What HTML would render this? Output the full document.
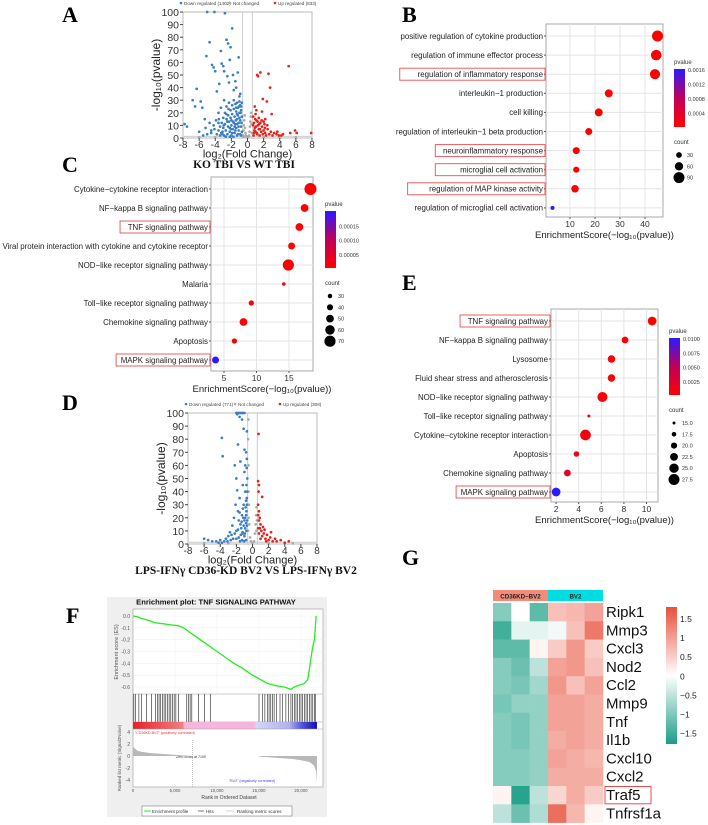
<!DOCTYPE html>
<html><head><meta charset="utf-8"><style>
html,body{margin:0;padding:0;background:#fff}
svg{display:block;font-family:"Liberation Sans",sans-serif}
.lbl{font-family:"Liberation Serif",serif;font-weight:bold;font-size:22px}
</style></head><body>
<svg id="fig" width="708" height="825" viewBox="0 0 708 825" xmlns="http://www.w3.org/2000/svg">
<defs>
<linearGradient id="pg" x1="0" y1="1" x2="0" y2="0"><stop offset="0" stop-color="#ff0000"/><stop offset="0.5" stop-color="#c0005a"/><stop offset="1" stop-color="#2a1aff"/></linearGradient>
<linearGradient id="hg" x1="0" y1="1" x2="0" y2="0"><stop offset="0" stop-color="#1a9e84"/><stop offset="0.5" stop-color="#ffffff"/><stop offset="1" stop-color="#e8503a"/></linearGradient>
<linearGradient id="fg" x1="0" y1="0" x2="1" y2="0"><stop offset="0" stop-color="#e8202a"/><stop offset="0.27" stop-color="#f08080"/><stop offset="0.28" stop-color="#f6b6dc"/><stop offset="0.66" stop-color="#f6b6dc"/><stop offset="0.67" stop-color="#d6d6f6"/><stop offset="0.85" stop-color="#b0b0f0"/><stop offset="0.92" stop-color="#5050e0"/><stop offset="1" stop-color="#1010b0"/></linearGradient>
</defs>
<text class="lbl" x="62" y="22">A</text>
<text class="lbl" x="402" y="22">B</text>
<text class="lbl" x="62" y="172">C</text>
<text class="lbl" x="62" y="410">D</text>
<text class="lbl" x="402" y="290">E</text>
<text class="lbl" x="66" y="623">F</text>
<text class="lbl" x="402" y="565">G</text>
<g id="root"></g>
</svg>
<script>
// ---------- DATA ----------
const volcA_down = "-7.8,11 -7.5,9 -6.8,30 -6.5,25 -6.3,39 -5.8,29 -5.6,24 -5.3,15 -5.1,65 -5,100 -4.7,76 -4.5,6 -4.4,58 -4.2,56 -4.1,100 -4,53 -3.8,37 -3.6,12 -3.5,43 -3.3,69 -3.2,59 -3,57 -2.9,53 -2.8,99 -2.6,78 -2.5,49 -2.4,75 -2.3,44 -2.2,62 -2.1,72 -1.9,87 -1.8,50 -1.7,38 -1.5,45 -1.4,40 -1.3,28 -1.2,52 -1.1,64 -1,33 -0.9,35 -0.8,25 -3.8,3 -3.6,6 -3.4,9 -3.4,2 -3.2,12 -3.1,5 -3,16 -3,8 -2.9,2 -2.8,20 -2.8,11 -2.7,6 -2.6,25 -2.6,15 -2.5,3 -2.4,18 -2.4,9 -2.3,28 -2.3,13 -2.2,5 -2.1,22 -2.1,16 -2,10 -2,2 -1.9,26 -1.9,19 -1.8,13 -1.8,7 -1.7,30 -1.7,23 -1.6,17 -1.6,4 -1.5,11 -1.5,27 -1.4,21 -1.4,8 -1.3,15 -1.3,2 -1.2,24 -1.2,18 -1.1,12 -1.1,6 -1,29 -1,20 -0.9,14 -0.9,3 -0.8,22 -0.8,9 -0.7,17 -0.7,5 -4.5,4 -5,3 -5.5,2 -6,5 -4.2,10 -3.9,14 -3.6,20 -3.3,24 -2.9,30 -2.5,13 -2.2,1 -1.9,4 -1.6,9 -1.3,11 -1,16 -0.8,2 -0.75,12 -1.05,25 -1.45,14 -1.75,1 -2.05,7 -2.35,23 -2.65,19 -2.95,10 -3.25,4 -3.55,15 -4.1,7 -4.7,12 -5.2,8 -1.2,3 -1.5,6 -0.9,26 -1.1,9 -1.3,19 -1.7,12 -2,14 -2.2,8 -2.7,1 -3.1,3 -1.4,24 -0.7,28 -0.85,20";
const volcA_up = "0.7,17 0.8,12 0.9,8 1,5 1.1,14 1.2,3 1.3,10 1.4,7 1.5,2 1.6,12 1.7,5 1.8,9 1.9,3 2,6 2.1,11 2.2,4 2.3,2 2.5,7 2.7,3 2.9,5 3.1,2 3.3,4 3.6,3 3.9,2 4.2,2 0.75,2 0.85,6 0.95,15 1.05,9 1.15,4 1.25,13 1.45,11 1.55,7 1.75,14 2.15,8 2.45,10 0.9,25 1.2,50 1.3,49 1.6,52 2.6,51 2.8,40 1.9,31 2.4,29 3,19 1.8,21 5.1,57 5.3,4 5.9,6 6.1,4 7.9,4 4.4,3 3.7,5 0.7,10 0.8,4 1,19 1.4,16 2,13 1.1,22 2.2,15";
const volcA_ns = "-0.55,2 -0.5,6 -0.45,10 -0.4,14 -0.35,18 -0.3,8 -0.25,4 -0.2,2 -0.1,1 0,1 0.1,1 0.2,2 0.25,5 0.3,9 0.35,13 0.4,17 0.45,20 0.5,11 0.55,4 -0.5,1 -6,0.5 -4,0.5 -2,0.5 2,0.5 4,0.5 6,0.5";
const volcD_down = "-6,4 -5.5,3 -5,2 -4.5,2 -4,3 -3.8,1 -3.5,2 -3.3,4 -3,6 -2.8,9 -3.8,81 -3.7,67 -2.5,14 -2.3,20 -2.2,60 -2.1,30 -2,50 -2,10 -1.9,41 -1.8,76 -1.8,25 -1.7,5 -1.6,35 -1.5,15 -1.5,63 -1.4,100 -1.3,95 -1.3,22 -1.2,45 -1.2,8 -1.1,30 -1.1,88 -1,18 -1,55 -0.9,40 -0.9,12 -0.8,70 -0.8,3 -0.75,25 -0.7,86 -0.7,35 -0.65,50 -1.6,97 -1.9,99 -1.4,12 -1.7,18 -2.4,4 -2.6,7 -1.2,27 -0.9,20 -0.8,16 -0.75,10 -1,6 -1.3,3 -1.1,14 -0.85,28 -0.7,30 -0.65,18 -0.7,14 -0.75,45 -0.8,33 -0.9,60 -1,72 -1.15,20 -1.25,9 -1.45,7 -1.6,24 -1.8,11 -2,4 -2.2,8 -0.7,65 -0.72,58 -0.68,40 -0.78,22 -0.95,8 -1.05,2 -1.35,17 -1.55,2 -2.7,3 -3.1,2 -4.2,1 -2,100 -1.8,100 -1.6,100 -1.2,100 -1,100";
const volcD_up = "0.7,48 0.8,45 0.75,40 1.2,36 0.7,30 0.8,25 0.9,20 1,15 0.7,22 0.8,18 1.1,10 1.2,6 1.4,8 1.6,4 1.8,7 2,3 2.2,5 2.5,2 2.8,4 3,2 3.5,3 4,1 4.5,2 0.9,12 1.3,13 0.75,84 1.5,11 1.7,2 2.3,9 0.8,8 1,4 0.7,12";
const volcD_ns = "-0.55,10 -0.5,20 -0.5,40 -0.5,60 -0.55,80 -0.5,95 -0.45,30 -0.4,15 -0.3,5 -0.2,2 0,1 0.2,2 0.3,8 0.4,15 0.45,22 0.5,28 0.55,18 0.5,10 -6,0.5 -3,0.5 2,0.5 5,0.5";

const bTerms = ["positive regulation of cytokine production","regulation of immune effector process","regulation of inflammatory response","interleukin−1 production","cell killing","regulation of interleukin−1 beta production","neuroinflammatory response","microglial cell activation","regulation of MAP kinase activity","regulation of microglial cell activation"];
const bScore = [45,44.5,44,25.5,21.5,17.5,12.5,12.5,12,3];
const bCount = [90,85,80,55,55,45,45,35,50,10];
const bP = [0.00001,0.00001,0.00001,0.00001,0.00001,0.00001,0.00001,0.00001,0.00001,0.0016];
const bBoxed = [2,6,7,8];

const cTerms = ["Cytokine−cytokine receptor interaction","NF−kappa B signaling pathway","TNF signaling pathway","Viral protein interaction with cytokine and cytokine receptor","NOD−like receptor signaling pathway","Malaria","Toll−like receptor signaling pathway","Chemokine signaling pathway","Apoptosis","MAPK signaling pathway"];
const cScore = [18.3,17.4,16.6,15.4,14.9,14.2,9.2,8.0,6.6,3.7];
const cCount = [75,50,50,45,70,25,35,50,35,45];
const cP = [0.000001,0.000001,0.000001,0.000001,0.000001,0.000001,0.000001,0.000001,0.000001,0.00018];
const cBoxed = [2,9];

const eTerms = ["TNF signaling pathway","NF−kappa B signaling pathway","Lysosome","Fluid shear stress and atherosclerosis","NOD−like receptor signaling pathway","Toll−like receptor signaling pathway","Cytokine−cytokine receptor interaction","Apoptosis","Chemokine signaling pathway","MAPK signaling pathway"];
const eScore = [10.5,8.1,6.9,6.9,6.1,4.9,4.6,3.8,3.0,2.0];
const eCount = [24,21,22,22,26,15,27,19,21,24];
const eP = [0.00001,0.0001,0.0002,0.0002,0.0003,0.0005,0.0005,0.001,0.0015,0.0100];
const eBoxed = [0,9];

const esRank = [0,500,1000,1500,2000,2500,3000,3500,4000,4500,5000,5500,6000,7000,8000,9000,10000,11000,12000,13000,14000,15000,16000,17000,18000,18800,19200,19600,20000,20400,20800,21000,21200,21400,21600,21800];
const esVal = [0,-0.005,-0.02,-0.03,-0.04,-0.055,-0.06,-0.065,-0.07,-0.075,-0.078,-0.085,-0.1,-0.15,-0.2,-0.25,-0.3,-0.35,-0.4,-0.44,-0.49,-0.53,-0.57,-0.59,-0.6,-0.62,-0.6,-0.59,-0.58,-0.57,-0.54,-0.45,-0.35,-0.26,-0.2,0];
const hitRanks = [100,300,700,1000,1600,2200,2700,2900,3100,3300,3500,3700,3900,4100,4300,4500,4700,4900,5100,5400,6400,6600,6800,7000,7800,8500,9200,15000,15400,15700,16000,16200,16400,16600,16800,17100,17500,17800,18200,18500,18800,19000,19200,19400,19600,19800,20000,20200,20400,20600,20800,21000,21200,21400,21600,21700];
const metricRank = [0,500,1000,2000,4000,6000,7100,9000,12000,14900,15000,17000,19000,20000,21000,21500,21800,21900];
const metricVal = [1.5,0.9,0.7,0.5,0.3,0.1,0,0,0,0,-0.1,-0.3,-0.5,-0.7,-1.0,-1.5,-2.5,-4.5];

const genes = ["Ripk1","Mmp3","Cxcl3","Nod2","Ccl2","Mmp9","Tnf","Il1b","Cxcl10","Cxcl2","Traf5","Tnfrsf1a"];
const heat = [
[-0.9,0,-1.2,0.6,0.7,0.9],
[-1.4,-0.2,-0.2,-0.1,0.6,1.3],
[-1.2,-1.2,0.1,0.5,1.0,0.5],
[-0.9,-1.1,-0.5,0.9,1.0,0.6],
[-0.9,-1.0,-0.7,1.0,0.6,0.9],
[-1.0,-0.8,-0.8,0.9,0.9,0.8],
[-0.9,-1.0,-0.8,0.9,0.9,0.8],
[-0.9,-1.0,-0.8,0.8,0.9,0.8],
[-0.9,-0.9,-0.8,0.9,0.8,0.7],
[-0.9,-0.9,-0.8,0.8,0.8,0.8],
[0.1,-1.6,-0.5,0.4,0.8,0.5],
[-0.5,-1.1,-0.6,1.4,0.7,0.1]];

// ---------- HELPERS ----------
const NS="http://www.w3.org/2000/svg";
const root=document.getElementById('root');
function el(tag,attrs,parent,text){const e=document.createElementNS(NS,tag);for(const k in attrs)e.setAttribute(k,attrs[k]);if(text!==undefined)e.textContent=text;(parent||root).appendChild(e);return e;}
function parsePts(s){return s.trim().split(/\s+/).map(p=>p.split(',').map(Number));}

// ---------- VOLCANO ----------
function volcano(o){
  const g=el('g',{});
  
  
  const X=v=>o.x0+(v+8)*(o.x1-o.x0)/16, Y=v=>o.y1-v*(o.y1-o.y0)/100;
  const frame=el('rect',{x:o.x0,y:o.y0,width:o.x1-o.x0,height:o.y1-o.y0,fill:'#fff',stroke:'#bbb','stroke-width':1},g);
  
  el('line',{x1:X(-0.6),x2:X(-0.6),y1:o.y0,y2:o.y1,stroke:'#ccc','stroke-width':1},g);
  el('line',{x1:X(0.6),x2:X(0.6),y1:o.y0,y2:o.y1,stroke:'#ccc','stroke-width':1},g);
  el('line',{x1:o.x0,x2:o.x1,y1:Y(1.3),y2:Y(1.3),stroke:'#ccc','stroke-width':1},g);
  const series=[[o.ns,'#aaaaaa','point-not-changed'],[o.down,'#3a7fc4','point-down'],[o.up,'#e8201a','point-up']];
  series.forEach(([s,c,n])=>parsePts(s).forEach(([x,y])=>{const p=el('circle',{cx:X(x),cy:Y(y),r:1.35,fill:c},g);}));
  for(let v=0;v<=100;v+=10){el('line',{x1:o.x0-3,x2:o.x0,y1:Y(v),y2:Y(v),stroke:'#444'},g);const t=el('text',{x:o.x0-4,y:Y(v)+4,'font-size':10.5,'text-anchor':'end',fill:'#333'},g,v);}
  for(let v=-8;v<=8;v+=2){el('line',{x1:X(v),x2:X(v),y1:o.y1,y2:o.y1+3,stroke:'#444'},g);const t=el('text',{x:X(v),y:o.y1+10,'font-size':10,'text-anchor':'middle',fill:'#333'},g,v);}
  const yl=el('text',{x:0,y:0,'font-size':12,'text-anchor':'middle',fill:'#222',transform:`translate(${o.x0-23},${(o.y0+o.y1)/2}) rotate(-90)`},g,'-log₁₀(pvalue)');
  const xl=el('text',{x:(o.x0+o.x1)/2,y:o.y1+19.5,'font-size':11,'text-anchor':'middle',fill:'#222'},g,'log₂(Fold Change)');
  const tt=el('text',{x:o.tx,y:o.y1+30,'font-size':o.tsize,'text-anchor':'middle','font-family':'Liberation Serif,serif','font-weight':'bold',fill:'#111'},g,o.title);
  const lg=el('g',{},g);
  const ly=o.y0-7;
  el('circle',{cx:o.x0-2,cy:ly-2,r:1.3,fill:'#3a7fc4'},lg);el('text',{x:o.x0+1,y:ly,'font-size':4.6,fill:'#444'},lg,o.l1);
  el('circle',{cx:o.x0+47,cy:ly-2,r:1.3,fill:'#aaa'},lg);el('text',{x:o.x0+50,y:ly,'font-size':4.6,fill:'#444'},lg,'Not changed');
  el('circle',{cx:o.x0+92,cy:ly-2,r:1.3,fill:'#e8201a'},lg);el('text',{x:o.x0+95,y:ly,'font-size':4.6,fill:'#444'},lg,o.l2);
}
volcano({name:'volcano-ko-vs-wt',x0:183,x1:312,y0:12,y1:138,down:volcA_down,up:volcA_up,ns:volcA_ns,title:'KO TBI  VS  WT TBI',tx:244,tsize:11.5,l1:'Down regulated (1402)',l2:'Up regulated (833)'});
volcano({name:'volcano-cd36kd-vs-bv2',x0:188,x1:317,y0:413,y1:544,down:volcD_down,up:volcD_up,ns:volcD_ns,title:'LPS-IFNγ CD36-KD BV2 VS LPS-IFNγ BV2',tx:246,tsize:11.5,l1:'Down regulated (771)',l2:'Up regulated (308)'});

// ---------- DOT PLOTS ----------
function dotplot(o){
  const g=el('g',{});
  
  
  const X=v=>o.px0+(v-o.xmin)*o.k;
  const rowY=i=>o.ry0+i*o.rstep;
  el('rect',{x:o.x0,y:o.y0,width:o.x1-o.x0,height:o.y1-o.y0,fill:'#fff',stroke:'#aaa','stroke-width':1},g);
  o.ticks.forEach(v=>{el('line',{x1:X(v),x2:X(v),y1:o.y0,y2:o.y1,stroke:'#e4e4e4'},g);
    const t=el('text',{x:X(v),y:o.y1+10,'font-size':8.5,'text-anchor':'middle',fill:'#333'},g,v);
    el('line',{x1:X(v),x2:X(v),y1:o.y1,y2:o.y1+2,stroke:'#555'},g);});
  o.terms.forEach((term,i)=>{const y=rowY(i);
    el('line',{x1:o.x0,x2:o.x1,y1:y,y2:y,stroke:'#e4e4e4'},g);
    el('line',{x1:o.x0-2,x2:o.x0,y1:y,y2:y,stroke:'#555'},g);
    const t=el('text',{x:o.x0-3,y:y+2.8,'font-size':o.fs,'text-anchor':'end',fill:'#222'},g,term);
    
    if(o.boxed.includes(i)){const w=term.length*o.fs*0.5+6;const b=el('rect',{x:o.x0-w-2,y:y-6,width:w+1,height:12,fill:'none',stroke:'#e85050','stroke-width':0.9},g);}
    const frac=Math.min(1,o.p[i]/o.pmax);
    const c=`rgb(${Math.round(255-213*frac)},${Math.round(26*frac)},${Math.round(255*frac)})`;
    const r=o.rmin+(o.count[i]-o.cmin)/(o.cmax-o.cmin)*(o.rmax-o.rmin);
    const d=el('circle',{cx:X(o.score[i]),cy:y,r:r,fill:c},g);
    
  });
  const xl=el('text',{x:(o.x0+o.x1)/2,y:o.y1+21,'font-size':9.5,'text-anchor':'middle',fill:'#222'},g,'EnrichmentScore(−log₁₀(pvalue))');
  
  const lg=el('g',{},g);
  el('text',{x:o.lx,y:o.ly,'font-size':6,fill:'#333'},lg,'pvalue');
  el('rect',{x:o.lx,y:o.ly+5,width:11,height:o.lbh,fill:'url(#pg)'},lg);
  o.ptick.forEach((t,j)=>el('text',{x:o.lx+14,y:o.ly+8+j*o.lbh/4,'font-size':5.5,fill:'#333'},lg,t));
  el('text',{x:o.lx,y:o.ly+o.lbh+22,'font-size':6,fill:'#333'},lg,'count');
  o.clab.forEach((t,j)=>{const cy=o.ly+o.lbh+33+j*11.3;const r=o.rmin+(o.cvals[j]-o.cmin)/(o.cmax-o.cmin)*(o.rmax-o.rmin);el('circle',{cx:o.lx+5,cy:cy,r:r,fill:'#000'},lg);el('text',{x:o.lx+13,y:cy+2,'font-size':5.5,fill:'#333'},lg,t);});
}
dotplot({name:'go-enrichment-dotplot',terms:bTerms,score:bScore,count:bCount,p:bP,pmax:0.0016,boxed:bBoxed,x0:546,x1:663,y0:24,y1:217,ry0:36,rstep:19.1,px0:545,xmin:0,k:2.5,ticks:[10,20,30,40],fs:7.9,rmin:2,rmax:5.5,cmin:10,cmax:90,lx:674,ly:64,lbh:58,ptick:['0.0016','0.0012','0.0008','0.0004'],clab:['30','60','90'],cvals:[30,60,90]});
dotplot({name:'kegg-enrichment-dotplot-c',terms:cTerms,score:cScore,count:cCount,p:cP,pmax:0.00018,boxed:cBoxed,x0:211,x1:313,y0:177,y1:371,ry0:189,rstep:19.0,px0:191.5,xmin:0,k:6.5,ticks:[5,10,15],fs:7.9,rmin:1.8,rmax:6,cmin:25,cmax:75,lx:325,ly:206,lbh:57,ptick:['','0.00015','0.00010','0.00005'],clab:['30','40','50','60','70'],cvals:[30,40,50,60,70]});
dotplot({name:'kegg-enrichment-dotplot-e',terms:eTerms,score:eScore,count:eCount,p:eP,pmax:0.01,boxed:eBoxed,x0:551,x1:658,y0:309,y1:502,ry0:321,rstep:19.0,px0:533.5,xmin:0,k:11.3,ticks:[2,4,6,8,10],fs:7.9,rmin:1.5,rmax:5.5,cmin:15,cmax:27.5,lx:669,ly:333,lbh:57,ptick:['0.0100','0.0075','0.0050','0.0025'],clab:['15.0','17.5','20.0','22.5','25.0','27.5'],cvals:[15,17.5,20,22.5,25,27.5]});

// ---------- GSEA ----------
(function(){
  const g=el('g',{});
  
  
  el('rect',{x:107,y:597,width:220,height:220,fill:'#efefef'},g);
  const X=r=>133+r*0.0084;
  el('rect',{x:133,y:609,width:190,height:178,fill:'#fff',stroke:'#999','stroke-width':0.6},g);
  const t=el('text',{x:216,y:604.5,'font-size':7.6,'font-weight':'bold','text-anchor':'middle',fill:'#111'},g,'Enrichment plot: TNF SIGNALING PATHWAY');
  
  const Ye=v=>616-v*118.3;
  [0,-0.1,-0.2,-0.3,-0.4,-0.5,-0.6].forEach(v=>{el('line',{x1:133,x2:323,y1:Ye(v),y2:Ye(v),stroke:'#eee','stroke-width':0.5},g);el('text',{x:130,y:Ye(v)+2,'font-size':5,'text-anchor':'end',fill:'#555'},g,v.toFixed(1));});
  [5000,10000,15000,20000].forEach(r=>el('line',{x1:X(r),x2:X(r),y1:609,y2:694,stroke:'#eee','stroke-width':0.5},g));
  el('line',{x1:133,x2:323,y1:694,y2:694,stroke:'#999','stroke-width':0.6},g);
  const yl=el('text',{x:0,y:0,'font-size':5.5,'text-anchor':'middle',fill:'#555',transform:'translate(118,652) rotate(-90)'},g,'Enrichment score (ES)');
  
  const line=el('polyline',{points:esRank.map((r,i)=>X(r)+','+Ye(esVal[i])).join(' '),fill:'none',stroke:'#22ee22','stroke-width':1.3},g);
  
  hitRanks.forEach(r=>{const h=el('line',{x1:X(r),x2:X(r),y1:694,y2:722,stroke:'#222','stroke-width':0.6},g);});
  el('line',{x1:133,x2:323,y1:722,y2:722,stroke:'#999','stroke-width':0.6},g);
  el('rect',{x:X(0),y:722,width:X(21900)-X(0),height:7,fill:'url(#fg)'},g);
  el('line',{x1:133,x2:323,y1:729,y2:729,stroke:'#999','stroke-width':0.6},g);
  el('text',{x:135,y:734,'font-size':3.6,fill:'#e33'},g,'"CD36KD-BV2" (positively correlated)');
  el('text',{x:229,y:782,'font-size':3.6,fill:'#44e'},g,'"BV2" (negatively correlated)');
  el('text',{x:176,y:758,'font-size':3.6,fill:'#333'},g,'Zero cross at 7100');
  el('line',{x1:X(7100),x2:X(7100),y1:740,y2:787,stroke:'#888','stroke-width':0.5,'stroke-dasharray':'1,1'},g);
  const Ym=v=>756-v*6;
  [4,2,0,-2,-4].forEach(v=>el('text',{x:130,y:Ym(v)+2,'font-size':5,'text-anchor':'end',fill:'#555'},g,v));
  const area=el('polygon',{points:X(0)+','+Ym(0)+' '+metricRank.map((r,i)=>X(r)+','+Ym(metricVal[i])).join(' ')+' '+X(21900)+','+Ym(0),fill:'#b8b8b8'},g);
  
  el('text',{x:0,y:0,'font-size':4.5,'text-anchor':'middle',fill:'#555',transform:'translate(121,758) rotate(-90)'},g,'Ranked list metric (Signal2Noise)');
  [0,5000,10000,15000,20000].forEach(r=>el('text',{x:X(r),y:792,'font-size':4.3,'text-anchor':'middle',fill:'#555'},g,r===0?'0':r.toLocaleString('en-US')));
  el('text',{x:229,y:799,'font-size':5,'text-anchor':'middle',fill:'#444'},g,'Rank in Ordered Dataset');
  const lg=el('g',{},g);
  el('rect',{x:142,y:806,width:150,height:10,fill:'#fff',stroke:'#666','stroke-width':0.5},lg);
  el('line',{x1:144,x2:151,y1:811,y2:811,stroke:'#2e2','stroke-width':1},lg);
  el('text',{x:152,y:813,'font-size':4.5,fill:'#333'},lg,'Enrichment profile');
  el('line',{x1:198,x2:204,y1:811,y2:811,stroke:'#222','stroke-width':0.6},lg);
  el('text',{x:206,y:813,'font-size':4.5,fill:'#333'},lg,'Hits');
  el('line',{x1:226,x2:234,y1:811,y2:811,stroke:'#bbb','stroke-width':0.6},lg);
  el('text',{x:237,y:813,'font-size':4.5,fill:'#333'},lg,'Ranking metric scores');
})();

// ---------- HEATMAP ----------
(function(){
  const g=el('g',{});
  
  
  const x0=493,cw=18.33,y0=603,rh=18.3;
  function col(v){const t=Math.max(-1,Math.min(1,v/1.7));const a=Math.abs(t);
    const tgt=t>=0?[232,80,58]:[26,158,132];
    return `rgb(${Math.round(255+(tgt[0]-255)*a)},${Math.round(255+(tgt[1]-255)*a)},${Math.round(255+(tgt[2]-255)*a)})`;}
  const h1=el('rect',{x:x0,y:590,width:cw*3,height:11,fill:'#f28b7a'},g);
  const h2=el('rect',{x:x0+cw*3,y:590,width:cw*3,height:11,fill:'#00dde0'},g);
  el('text',{x:x0+cw*1.5,y:598.5,'font-size':6.2,'font-weight':'bold','text-anchor':'middle',fill:'#222'},g,'CD36KD−BV2');
  el('text',{x:x0+cw*4.5,y:598.5,'font-size':6.2,'font-weight':'bold','text-anchor':'middle',fill:'#222'},g,'BV2');
  heat.forEach((row,i)=>{row.forEach((v,j)=>{const c=el('rect',{x:x0+j*cw,y:y0+i*rh,width:cw+0.3,height:rh+0.3,fill:col(v)},g);});
    const t=el('text',{x:606,y:y0+i*rh+14,'font-size':15,fill:'#111'},g,genes[i]);});
  const b=el('rect',{x:605,y:y0+10*rh+0.5,width:46,height:rh-1,fill:'none',stroke:'#e85050','stroke-width':1},g);
  const cb=el('rect',{x:666,y:607,width:11,height:137,fill:'url(#hg)'},g);
  ['1.5','1','0.5','0','−0.5','−1','−1.5'].forEach((t,j)=>el('text',{x:680,y:622+j*19.1,'font-size':8.5,fill:'#222'},g,t));
})();
</script>
</body></html>
